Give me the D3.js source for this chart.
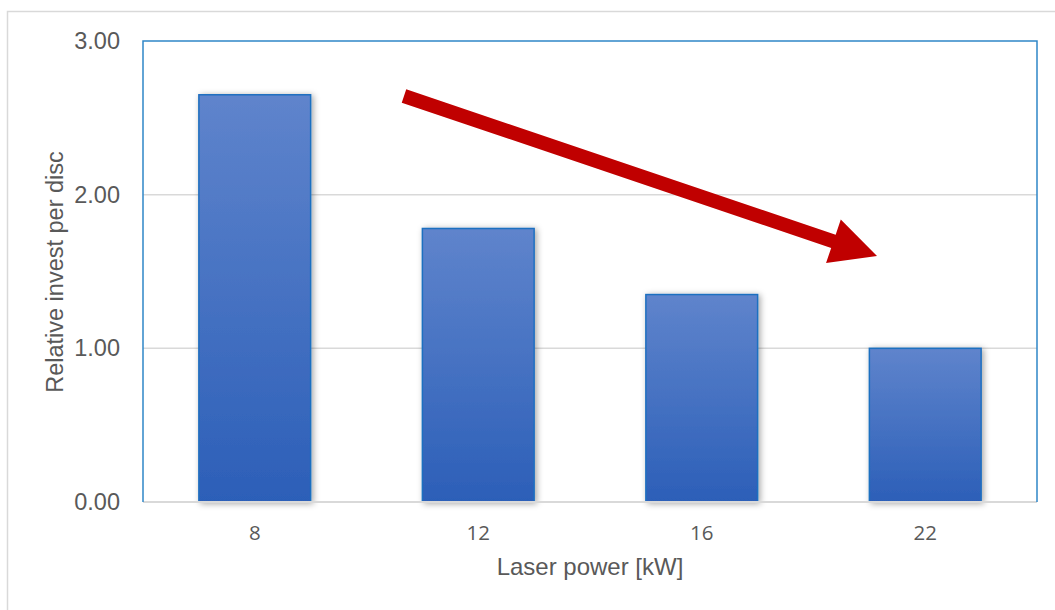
<!DOCTYPE html>
<html>
<head>
<meta charset="utf-8">
<script src="https://cdn.jsdelivr.net/npm/d3@7"></script>
<style>
  html, body { margin: 0; padding: 0; background: #fff; }
  svg { display: block; font-family: "Liberation Sans", Arial, sans-serif; }
</style>
</head>
<body>
<svg id="chart" width="1055" height="610"></svg>
<script>
const categories = ["8", "12", "16", "22"];
const values = [2.65, 1.78, 1.35, 1.00];
const yTicks = [0, 1, 2, 3];
const yDomain = [0, 3];
const xTitle = "Laser power [kW]";
const yTitle = "Relative invest per disc";

const svg = d3.select("#chart");
const m = { left: 143, top: 41, right: 1037, bottom: 502 };

// outer frame
svg.append("rect").attr("x", 7.5).attr("y", 11.5).attr("width", 1100).attr("height", 700)
  .attr("fill", "#fff").attr("stroke", "#d9d9d9").attr("stroke-width", 1.5);

const defs = svg.append("defs");
const grad = defs.append("linearGradient").attr("id", "barGrad")
  .attr("x1", 0).attr("y1", 0).attr("x2", 0).attr("y2", 1);
grad.append("stop").attr("offset", "0%").attr("stop-color", "#5f84cc");
grad.append("stop").attr("offset", "100%").attr("stop-color", "#2c5fb8");

const shadow = defs.append("filter").attr("id", "shadow")
  .attr("x", "-20%").attr("y", "-20%").attr("width", "140%").attr("height", "140%");
shadow.append("feDropShadow").attr("dx", 2).attr("dy", 1).attr("stdDeviation", 3)
  .attr("flood-color", "#000").attr("flood-opacity", 0.35);

const x = d3.scaleBand().domain(categories).range([m.left, m.right]).paddingInner(0.5).paddingOuter(0.25);
const y = d3.scaleLinear().domain(yDomain).range([m.bottom, m.top]);

// gridlines
svg.append("g").selectAll("line").data(yTicks.filter(t => t > 0 && t < 3)).join("line")
  .attr("x1", m.left).attr("x2", m.right)
  .attr("y1", d => y(d)).attr("y2", d => y(d))
  .attr("stroke", "#d9d9d9").attr("stroke-width", 1.5);

// bars
svg.append("g").selectAll("rect").data(values).join("rect")
  .attr("x", (d, i) => x(categories[i]))
  .attr("y", d => y(d))
  .attr("width", x.bandwidth())
  .attr("height", d => y(0) - y(d))
  .attr("fill", "url(#barGrad)")
  .attr("stroke", "#1f6fc0").attr("stroke-width", 1.5)
  .attr("filter", "url(#shadow)");

// x axis line
svg.append("line").attr("x1", m.left).attr("x2", m.right).attr("y1", m.bottom).attr("y2", m.bottom)
  .attr("stroke", "#d9d9d9").attr("stroke-width", 2);

// plot area border (left, top, right) in blue
svg.append("path")
  .attr("d", `M${m.left},${m.bottom} L${m.left},${m.top} L${m.right},${m.top} L${m.right},${m.bottom}`)
  .attr("fill", "none").attr("stroke", "#2f86c8").attr("stroke-width", 1.5);

// y axis labels
const yAxis = d3.axisLeft(y).tickValues(yTicks).tickFormat(d3.format(".2f")).tickSize(0).tickPadding(0);
const gy = svg.append("g").attr("transform", `translate(${120},0)`).call(yAxis);
gy.select(".domain").remove();
gy.selectAll("text").attr("font-size", 23.5).attr("fill", "#595959")
  .attr("font-family", "'Liberation Sans', Arial, sans-serif");

// x axis labels
const xAxis = d3.axisBottom(x).tickSize(0).tickPadding(0);
const gx = svg.append("g").attr("transform", `translate(0,${525})`).call(xAxis);
gx.select(".domain").remove();
gx.selectAll("text").attr("font-size", 20.5).attr("fill", "#595959")
  .attr("font-family", "'Open Sans', sans-serif").attr("dy", "0.72em");

// titles
svg.append("text").attr("x", 590).attr("y", 575)
  .attr("text-anchor", "middle").attr("font-size", 24).attr("fill", "#595959").text(xTitle);
svg.append("text").attr("transform", `translate(63,${272}) rotate(-90)`)
  .attr("text-anchor", "middle").attr("font-size", 23.5).attr("fill", "#595959").text(yTitle);

// red trend arrow (annotation)
const start = [404, 96], tip = [877, 256];
const dx = tip[0] - start[0], dy = tip[1] - start[1];
const len = Math.hypot(dx, dy), ang = Math.atan2(dy, dx) * 180 / Math.PI;
const shaftHalf = 7, headLen = 46, headHalf = 23;
const arrowPts = [
  [0, -shaftHalf], [len - headLen, -shaftHalf], [len - headLen, -headHalf], [len, 0],
  [len - headLen, headHalf], [len - headLen, shaftHalf], [0, shaftHalf]
];
svg.append("path")
  .attr("transform", `translate(${start[0]},${start[1]}) rotate(${ang})`)
  .attr("d", d3.line()(arrowPts) + "Z")
  .attr("fill", "#c00000");
</script>
</body>
</html>
